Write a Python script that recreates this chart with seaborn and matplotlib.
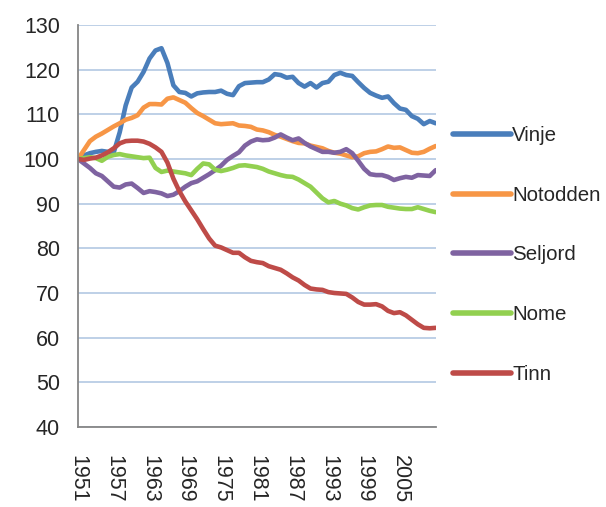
import numpy as np
import pandas as pd
import matplotlib
matplotlib.use("Agg")
import matplotlib.pyplot as plt
import seaborn as sns

years = list(range(1951, 2012))

vinje = [100, 100.8, 101.3, 101.6, 101.8, 101.6, 101.5, 106, 112, 116,
         117.3, 119.5, 122.5, 124.3, 124.8, 121.5, 116.5, 115, 114.8, 114,
         114.7, 114.9, 115, 115, 115.3, 114.6, 114.3, 116.3, 117, 117.1,
         117.2, 117.2, 117.8, 119, 118.8, 118.2, 118.4, 117, 116.2, 117,
         116, 117, 117.3, 118.8, 119.3, 118.8, 118.6, 117.2, 115.9, 114.8,
         114.2, 113.7, 114, 112.5, 111.3, 111, 109.6, 109, 107.8, 108.5, 108]

notodden = [100, 102, 104, 105, 105.7, 106.5, 107.3, 108, 108.8, 109.2,
            109.8, 111.5, 112.3, 112.3, 112.2, 113.5, 113.8, 113.2, 112.6, 111.4,
            110.3, 109.6, 108.8, 108, 107.8, 107.9, 108, 107.5, 107.4, 107.2,
            106.6, 106.4, 106, 105.4, 105, 104.5, 104, 103.6, 103.5, 103,
            102.7, 102.4, 101.8, 101.4, 101.2, 100.8, 100.4, 100.6, 101.3, 101.6,
            101.7, 102.2, 102.8, 102.5, 102.6, 102, 101.4, 101.3, 101.6, 102.3, 102.9]

seljord = [100, 99, 98, 96.8, 96.2, 95, 93.8, 93.6, 94.3, 94.5,
           93.5, 92.4, 92.8, 92.6, 92.3, 91.7, 92, 92.8, 93.8, 94.6,
           95, 95.8, 96.6, 97.5, 98.5, 99.8, 100.7, 101.5, 103, 103.9,
           104.4, 104.2, 104.3, 104.8, 105.5, 104.8, 104.2, 104.6, 103.6, 102.8,
           102.2, 101.6, 101.6, 101.4, 101.6, 102.2, 101.3, 99.6, 97.8, 96.6,
           96.4, 96.4, 96, 95.3, 95.7, 96, 95.8, 96.4, 96.3, 96.2, 97.5]

nome = [100, 100.2, 100.4, 100.2, 99.6, 100.5, 100.9, 101.1, 100.8, 100.6,
        100.4, 100.2, 100.3, 98, 97.1, 97.4, 97.2, 97, 96.8, 96.4,
        97.8, 99, 98.8, 97.6, 97.3, 97.6, 98, 98.5, 98.6, 98.4,
        98.2, 97.8, 97.2, 96.8, 96.4, 96.1, 96, 95.4, 94.6, 93.8,
        92.5, 91.2, 90.3, 90.6, 90, 89.6, 89, 88.7, 89.2, 89.6,
        89.7, 89.7, 89.3, 89.1, 88.9, 88.8, 88.8, 89.2, 88.8, 88.4, 88.1]

tinn = [100, 99.8, 100.1, 100.3, 100.8, 101.5, 102.4, 103.5, 104, 104.1,
        104.1, 103.9, 103.4, 102.6, 101.6, 99.2, 95.6, 92.8, 90.5, 88.5,
        86.5, 84.3, 82.2, 80.6, 80.2, 79.6, 79, 79, 78, 77.2,
        76.9, 76.7, 76, 75.6, 75.2, 74.4, 73.5, 72.8, 71.8, 71,
        70.8, 70.7, 70.2, 70, 69.9, 69.8, 69, 68, 67.4, 67.4,
        67.5, 67, 66, 65.5, 65.7, 65, 64, 63, 62.2, 62.1, 62.2]

names = ["Vinje", "Notodden", "Seljord", "Nome", "Tinn"]
series = [vinje, notodden, seljord, nome, tinn]
colors = ["#4A7EBB", "#F79646", "#7F63A1", "#92D050", "#BE4B48"]

ytick_values = list(range(40, 131, 10))
label_years = list(range(1951, 2006, 6))

df = pd.DataFrame({
    "year": np.tile(years, len(names)),
    "value": np.concatenate([np.array(s, dtype=float) for s in series]),
    "name": np.repeat(names, len(years)),
})

sns.set_style("white")
plt.rcParams["font.family"] = ["Liberation Sans", "DejaVu Sans"]

FS = 15.5
LFS = 14.8

fig = plt.figure(figsize=(6.06, 5.07), dpi=100)
ax = fig.add_axes([78 / 606, 1 - 427 / 507, (435.7 - 78) / 606, (427 - 25) / 507])

sns.lineplot(data=df, x="year", y="value", hue="name", hue_order=names,
             palette=colors, linewidth=3.3, ax=ax, legend=True)

ax.set_xlim(1951, 2011)
ax.set_ylim(40, 130)
ax.set_yticks(ytick_values)
ax.set_yticklabels([str(v) for v in ytick_values], fontsize=FS)
ax.set_xticks(years)
ax.set_xticklabels([str(y) if y in label_years else "" for y in years],
                   rotation=-90, fontsize=FS, va="top", ha="center")
ax.tick_params(axis="x", direction="out", length=5, width=1, color="#868686", pad=15)
ax.tick_params(axis="y", direction="out", length=6, width=1.2, color="#868686", pad=7)
ax.set_xlabel("")
ax.set_ylabel("")

ax.grid(axis="y", color="#B9CDE5", linewidth=1.3)
ax.grid(axis="x", visible=False)
ax.set_axisbelow(True)
for side in ["top", "right"]:
    ax.spines[side].set_visible(False)
for side in ["left", "bottom"]:
    ax.spines[side].set_color("#868686")
    ax.spines[side].set_linewidth(1.3)

leg = ax.legend(loc="center left", bbox_to_anchor=(453 / 606, 1 - 255 / 507),
                bbox_transform=fig.transFigure, frameon=False, fontsize=LFS,
                handlelength=2.8, labelspacing=1.98, handletextpad=0.08,
                borderaxespad=0, borderpad=0)
for line in leg.get_lines():
    line.set_linewidth(4)

fig.savefig("out.png", dpi=100)
